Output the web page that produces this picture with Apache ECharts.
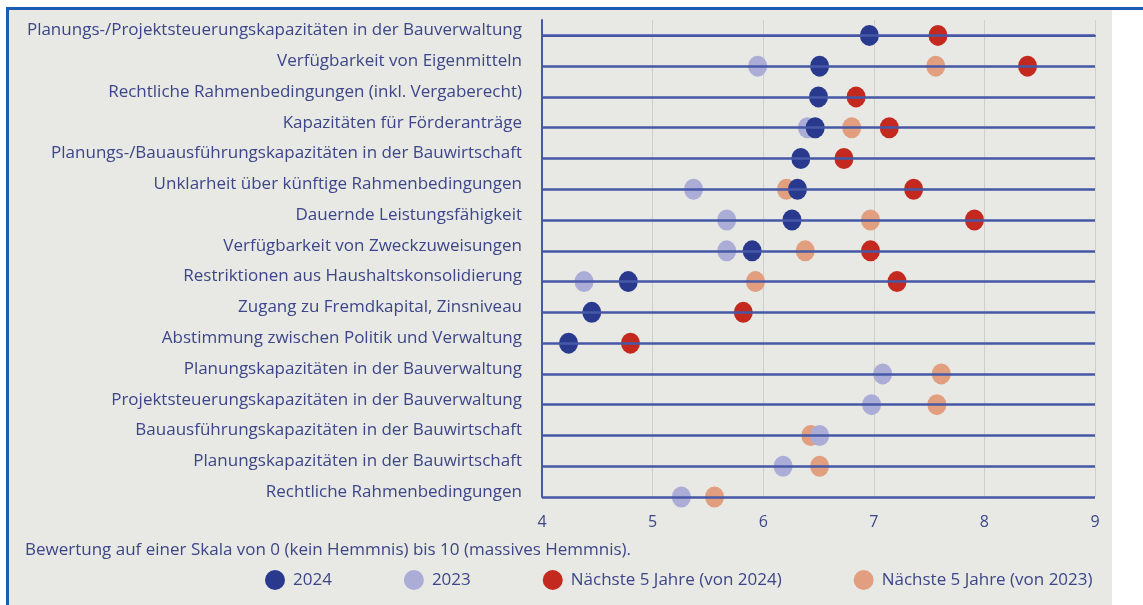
<!DOCTYPE html>
<html>
<head>
<meta charset="utf-8">
<script src="https://cdn.jsdelivr.net/npm/echarts@6/dist/echarts.min.js"></script>
<style>
html,body{margin:0;padding:0;background:#fff;}
#c{width:1143px;height:605px;}
</style>
</head>
<body>
<div id="c"></div>
<script>
const categories = [
  "Planungs-/Projektsteuerungskapazitäten in der Bauverwaltung",
  "Verfügbarkeit von Eigenmitteln",
  "Rechtliche Rahmenbedingungen (inkl. Vergaberecht)",
  "Kapazitäten für Förderanträge",
  "Planungs-/Bauausführungskapazitäten in der Bauwirtschaft",
  "Unklarheit über künftige Rahmenbedingungen",
  "Dauernde Leistungsfähigkeit",
  "Verfügbarkeit von Zweckzuweisungen",
  "Restriktionen aus Haushaltskonsolidierung",
  "Zugang zu Fremdkapital, Zinsniveau",
  "Abstimmung zwischen Politik und Verwaltung",
  "Planungskapazitäten in der Bauverwaltung",
  "Projektsteuerungskapazitäten in der Bauverwaltung",
  "Bauausführungskapazitäten in der Bauwirtschaft",
  "Planungskapazitäten in der Bauwirtschaft",
  "Rechtliche Rahmenbedingungen"
];
const values2024 = [6.96, 6.51, 6.50, 6.47, 6.34, 6.31, 6.26, 5.90, 4.78, 4.45, 4.24, null, null, null, null, null];
const values2023 = [null, 5.95, null, 6.40, null, 5.37, 5.67, 5.67, 4.38, null, null, 7.08, 6.98, 6.51, 6.18, 5.26];
const next5From2024 = [7.58, 8.39, 6.84, 7.14, 6.73, 7.36, 7.91, 6.97, 7.21, 5.82, 4.80, null, null, null, null, null];
const next5From2023 = [null, 7.56, null, 6.80, null, 6.21, 6.97, 6.38, 5.93, null, null, 7.61, 7.57, 6.43, 6.51, 5.56];
const xTicks = [4, 5, 6, 7, 8, 9];
const seriesNames = ["2024", "2023", "Nächste 5 Jahre (von 2024)", "Nächste 5 Jahre (von 2023)"];
const noteText = "Bewertung auf einer Skala von 0 (kein Hemmnis) bis 10 (massives Hemmnis).";

const textColor = "#3c4689";
const lineColor = "#4658a6";
const font = "Open Sans";

function pts(arr){
  const out = [];
  arr.forEach((v,i)=>{ if(v!==null) out.push([v,i]); });
  return out;
}

const chart = echarts.init(document.getElementById('c'), null, {renderer:'canvas'});
const dotSize = [19, 21];
chart.setOption({
  backgroundColor: '#ffffff',
  animation: false,
  textStyle: {fontFamily: font},
  graphic: [
    {type:'rect', z:-10, shape:{x:9, y:9, width:1103, height:600}, style:{fill:'#e8e8e4'}},
    {type:'rect', z:-9, shape:{x:6, y:7, width:3, height:600}, style:{fill:'#1c5db3'}},
    {type:'rect', z:-9, shape:{x:6, y:7, width:1140, height:3}, style:{fill:'#1c5db3'}}
  ],
  title: {
    text: noteText,
    left: 20, top: 537,
    textStyle: {color: textColor, fontSize: 17, fontWeight: 'normal', fontFamily: font}
  },
  legend: {
    data: seriesNames,
    left: 265, top: 570, padding: 0,
    itemGap: 72, itemWidth: 20, itemHeight: 20,
    icon: 'circle',
    textStyle: {color: textColor, fontSize: 17, fontFamily: font, padding: [0,0,0,3]}
  },
  grid: {left: 542, right: 48, top: 20, bottom: 108, containLabel: false},
  xAxis: {
    type: 'value', min: xTicks[0], max: xTicks[xTicks.length-1], interval: 1,
    axisLine: {show: true, lineStyle: {color: lineColor, width: 2}},
    axisTick: {show: false},
    splitLine: {show: true, lineStyle: {color: '#cfcfcc', width: 1}},
    axisLabel: {color: textColor, fontSize: 16, margin: 17, fontFamily: font}
  },
  yAxis: {
    type: 'value', inverse: true, min: -0.5, max: categories.length - 1, interval: 0.5,
    axisLine: {show: true, onZero: false, lineStyle: {color: lineColor, width: 2}},
    axisTick: {show: false},
    splitLine: {show: false},
    axisLabel: {
      color: textColor, fontSize: 17, margin: 20, fontFamily: font,
      formatter: function(v){
        const r = Math.round(v);
        if (Math.abs(v - r) < 1e-6 && r >= 0 && r < categories.length) return '{a|' + categories[r] + '}';
        return '';
      },
      rich: {
        a: {color: textColor, fontSize: 17, fontFamily: font, padding: [0, 0, 10, 0]}
      }
    }
  },
  series: [
    {
      name: 'rows', type: 'scatter', data: [], silent: true,
      markLine: {
        silent: true, symbol: ['none','none'], animation: false,
        label: {show: false},
        lineStyle: {color: lineColor, width: 2.5, type: 'solid'},
        emphasis: {disabled: true},
        data: categories.map((c,i)=>({yAxis: i}))
      }
    },
    {name: seriesNames[3], type: 'scatter', symbolSize: dotSize, itemStyle: {color: '#e19f80', opacity: 1}, data: pts(next5From2023)},
    {name: seriesNames[2], type: 'scatter', symbolSize: dotSize, itemStyle: {color: '#c4291f', opacity: 1}, data: pts(next5From2024)},
    {name: seriesNames[1], type: 'scatter', symbolSize: dotSize, itemStyle: {color: '#abadd7', opacity: 1}, data: pts(values2023)},
    {name: seriesNames[0], type: 'scatter', symbolSize: dotSize, itemStyle: {color: '#293a8e', opacity: 1}, data: pts(values2024)}
  ]
});
</script>
</body>
</html>
